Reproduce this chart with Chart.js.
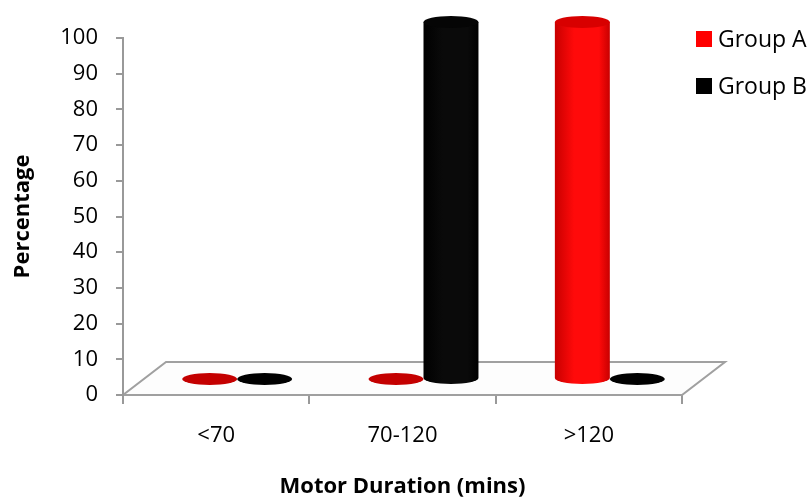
<!DOCTYPE html>
<html>
<head>
<meta charset="utf-8">
<script src="https://cdn.jsdelivr.net/npm/chart.js@4.4.1/dist/chart.umd.min.js"></script>
<style>
  body { margin: 0; background: #fff; }
  #wrap { width: 810px; height: 502px; }
</style>
</head>
<body>
<div id="wrap"><canvas id="chart" width="810" height="502"></canvas></div>
<script>
// chart data
const categories = ['<70', '70-120', '>120'];
const groupA = [0, 0, 100];
const groupB = [0, 100, 0];
const seriesNames = ['Group A', 'Group B'];
const yTicks = { min: 0, max: 100, step: 10 };

// 3D look
const DEPTH_X = 21, DEPTH_Y = 16;   // bar offset into the floor
const FLOOR_X = 43, FLOOR_Y = 33;   // floor depth
const shades = [
  { edge: '#c80000', mid: '#ff0a0a', top: '#d80000', flat: '#c40000' },
  { edge: '#000000', mid: '#0a0a0a', top: '#050505', flat: '#000000' }
];
const FONT = "'Open Sans', 'DejaVu Sans', sans-serif";

function drawCylinder(ctx, cx, top, bottom, w, s) {
  const rx = w / 2, ry = 6;
  if (bottom - top < 1) {
    ctx.fillStyle = s.flat;
    ctx.beginPath();
    ctx.ellipse(cx, bottom, rx, ry, 0, 0, Math.PI * 2);
    ctx.fill();
    return;
  }
  const g = ctx.createLinearGradient(cx - rx, 0, cx + rx, 0);
  g.addColorStop(0, s.edge);
  g.addColorStop(0.35, s.mid);
  g.addColorStop(0.8, s.mid);
  g.addColorStop(1, s.edge);
  ctx.fillStyle = g;
  ctx.beginPath();
  ctx.moveTo(cx - rx, top);
  ctx.lineTo(cx - rx, bottom);
  ctx.ellipse(cx, bottom, rx, ry, 0, Math.PI, 0, true);
  ctx.lineTo(cx + rx, top);
  ctx.closePath();
  ctx.fill();
  ctx.fillStyle = s.top;
  ctx.beginPath();
  ctx.ellipse(cx, top, rx, ry, 0, 0, Math.PI * 2);
  ctx.fill();
}

// floor under the bars
const floorPlugin = {
  id: 'floor',
  beforeDraw(chart) {
    const { ctx, chartArea: a } = chart;
    ctx.save();
    ctx.fillStyle = '#fff';
    ctx.fillRect(0, 0, chart.width, chart.height);
    ctx.beginPath();
    ctx.moveTo(a.left, a.bottom);
    ctx.lineTo(a.right, a.bottom);
    ctx.lineTo(a.right + FLOOR_X, a.bottom - FLOOR_Y);
    ctx.lineTo(a.left + FLOOR_X, a.bottom - FLOOR_Y);
    ctx.closePath();
    ctx.fillStyle = '#fdfdfd';
    ctx.fill();
    ctx.strokeStyle = '#a0a0a0';
    ctx.lineWidth = 2;
    ctx.stroke();
    ctx.restore();
  }
};

// cylinders instead of flat bars
const cylinderPlugin = {
  id: 'cylinders',
  beforeDatasetsDraw(chart) {
    const ctx = chart.ctx;
    ctx.save();
    chart.data.datasets.forEach((ds, i) => {
      chart.getDatasetMeta(i).data.forEach(el => {
        const p = el.getProps(['x', 'y', 'base', 'width'], true);
        drawCylinder(ctx, p.x + DEPTH_X, p.y - DEPTH_Y, p.base - DEPTH_Y, p.width, shades[i]);
      });
    });
    ctx.restore();
    return false;
  }
};

// legend at the right, as in the original
const sideLegend = {
  id: 'sideLegend',
  afterDraw(chart) {
    const ctx = chart.ctx;
    ctx.save();
    ctx.font = '23px ' + FONT;
    ctx.textBaseline = 'middle';
    chart.data.datasets.forEach((ds, i) => {
      const y = 39 + i * 47;
      ctx.fillStyle = ds.backgroundColor;
      ctx.fillRect(696, y - 8, 16, 16);
      ctx.fillStyle = '#000';
      ctx.fillText(ds.label, 718, y + 1);
    });
    ctx.restore();
  }
};

new Chart(document.getElementById('chart'), {
  type: 'bar',
  data: {
    labels: categories,
    datasets: [
      { label: seriesNames[0], data: groupA, backgroundColor: '#ff0000' },
      { label: seriesNames[1], data: groupB, backgroundColor: '#000000' }
    ]
  },
  options: {
    responsive: false,
    animation: false,
    devicePixelRatio: 1,
    categoryPercentage: 0.59,
    barPercentage: 1,
    layout: { padding: { top: 38, right: 128, left: 0, bottom: 0 } },
    plugins: { legend: { display: false }, tooltip: { enabled: false } },
    scales: {
      x: {
        ticks: { padding: 19, color: '#000', font: { family: FONT, size: 22 } },
        grid: { drawOnChartArea: false, tickLength: 9, color: '#999', lineWidth: 2, offset: true },
        border: { color: '#a0a0a0', width: 2 },
        title: {
          display: true, text: 'Motor Duration (mins)', color: '#000',
          font: { family: FONT, size: 22, weight: 'bold' }, padding: { bottom: 2 }
        },
        afterFit: s => { s.height = 107; }
      },
      y: {
        min: yTicks.min, max: yTicks.max,
        ticks: { stepSize: yTicks.step, padding: 18, color: '#000', font: { family: FONT, size: 22 } },
        grid: { drawOnChartArea: false, tickLength: 7, color: '#999', lineWidth: 2 },
        border: { color: '#999', width: 2 },
        title: {
          display: true, text: 'Percentage', color: '#000',
          font: { family: FONT, size: 22, weight: 'bold' }, padding: { top: 10 }
        },
        afterFit: s => { s.width = 123; }
      }
    }
  },
  plugins: [floorPlugin, cylinderPlugin, sideLegend]
});
</script>
</body>
</html>
